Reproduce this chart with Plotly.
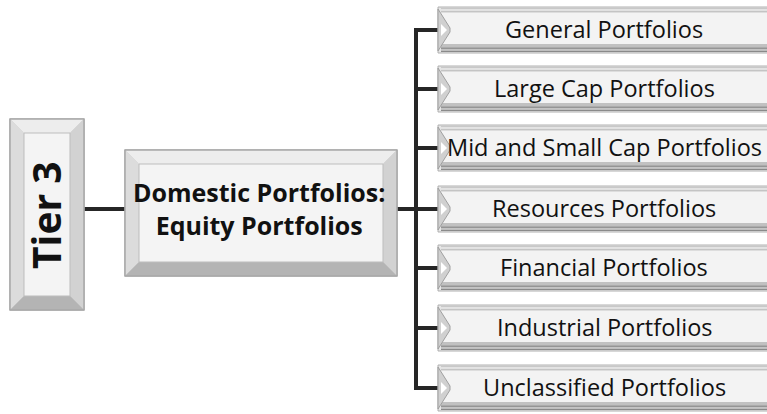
import plotly.graph_objects as go

tier_label = "Tier 3"
parent_label = "Domestic Portfolios:<br>Equity Portfolios"
child_labels = [
    "General Portfolios",
    "Large Cap Portfolios",
    "Mid and Small Cap Portfolios",
    "Resources Portfolios",
    "Financial Portfolios",
    "Industrial Portfolios",
    "Unclassified Portfolios",
]
child_centers = [30, 89, 148, 209, 268, 328, 388]

W, H = 767, 414
fig = go.Figure()
shapes = []
ann = []
FONT = "Open Sans"
LINE = "#262626"


def bevel_box(x0, y0, x1, y1, b):
    shapes.append(dict(type="rect", x0=x0, y0=y0, x1=x1, y1=y1,
                       fillcolor="#c8c8c8", line=dict(color="#9a9a9a", width=1)))
    shapes.append(dict(type="path",
                       path=f"M{x0},{y0} L{x1},{y0} L{x1-b},{y0+b} L{x0+b},{y0+b} Z",
                       fillcolor="#ededed", line=dict(width=0)))
    shapes.append(dict(type="path",
                       path=f"M{x0},{y0} L{x0+b},{y0+b} L{x0+b},{y1-b} L{x0},{y1} Z",
                       fillcolor="#dcdcdc", line=dict(width=0)))
    shapes.append(dict(type="path",
                       path=f"M{x1},{y0} L{x1-b},{y0+b} L{x1-b},{y1-b} L{x1},{y1} Z",
                       fillcolor="#d2d2d2", line=dict(width=0)))
    shapes.append(dict(type="path",
                       path=f"M{x0},{y1} L{x0+b},{y1-b} L{x1-b},{y1-b} L{x1},{y1} Z",
                       fillcolor="#b4b4b4", line=dict(width=0)))
    shapes.append(dict(type="rect", x0=x0+b, y0=y0+b, x1=x1-b, y1=y1-b,
                       fillcolor="#f4f4f4", line=dict(color="#bdbdbd", width=1)))
    shapes.append(dict(type="rect", x0=x0, y0=y0, x1=x1, y1=y1,
                       fillcolor="rgba(0,0,0,0)", line=dict(color="#a8a8a8", width=1.5)))


def bar_box(x0, yc, x1, h):
    y0, y1 = yc - h / 2, yc + h / 2
    shapes.append(dict(type="rect", x0=x0, y0=y0, x1=x1, y1=y1,
                       fillcolor="#e6e6e6", line=dict(color="#b0b0b0", width=1)))
    shapes.append(dict(type="rect", x0=x0 + 2, y0=y0 + 6, x1=x1, y1=y1 - 9,
                       fillcolor="#f3f3f3", line=dict(width=0)))
    for i, c in enumerate(["#9c9c9c", "#c0c0c0", "#7a7a7a", "#b8b8b8", "#8a8a8a"]):
        yy = y1 - 8 + i * 1.6
        shapes.append(dict(type="line", x0=x0 + 3, x1=x1, y0=yy, y1=yy,
                           line=dict(color=c, width=1.2)))
    for i, c in enumerate(["#c8c8c8", "#dedede", "#bcbcbc"]):
        yy = y0 + 1.5 + i * 1.6
        shapes.append(dict(type="line", x0=x0 + 3, x1=x1, y0=yy, y1=yy,
                           line=dict(color=c, width=1)))
    shapes.append(dict(type="path",
                       path=f"M{x0},{y0+2} L{x0+12},{yc-2} L{x0+12},{yc+2} L{x0},{y1-2} Z",
                       fillcolor="#d0d0d0", line=dict(color="#a0a0a0", width=1)))
    shapes.append(dict(type="path",
                       path=f"M{x0+3},{yc-6} L{x0+9},{yc} L{x0+3},{yc+6} Z",
                       fillcolor="#ffffff", line=dict(width=0)))


vx = 416
shapes.append(dict(type="line", x0=84, x1=126, y0=209, y1=209, line=dict(color=LINE, width=4)))
shapes.append(dict(type="line", x0=396, x1=vx, y0=209, y1=209, line=dict(color=LINE, width=4)))
shapes.append(dict(type="line", x0=vx, x1=vx, y0=child_centers[0] - 2, y1=child_centers[-1] + 2,
                   line=dict(color=LINE, width=4)))
for yc in child_centers:
    shapes.append(dict(type="line", x0=vx - 2, x1=442, y0=yc, y1=yc, line=dict(color=LINE, width=4)))

bevel_box(10, 119, 84, 310, 14)
bevel_box(125, 150, 397, 276, 14)

for lbl, yc in zip(child_labels, child_centers):
    bar_box(438, yc, 772, 46)
    ann.append(dict(x=604, y=yc - 1, text=lbl, showarrow=False, xanchor="center", yanchor="middle",
                    font=dict(family=FONT, size=23.5, color="#111111")))

ann.append(dict(x=45, y=215, text=f"<b>{tier_label}</b>", showarrow=False, textangle=-90,
                xanchor="center", yanchor="middle", font=dict(family=FONT, size=39, color="#111111")))
ann.append(dict(x=259, y=208, text=f"<b>{parent_label}</b>", showarrow=False,
                xanchor="center", yanchor="middle", font=dict(family=FONT, size=25, color="#111111")))

fig.update_layout(
    width=W, height=H, margin=dict(l=0, r=0, t=0, b=0),
    paper_bgcolor="white", plot_bgcolor="white",
    xaxis=dict(range=[0, W], visible=False, fixedrange=True),
    yaxis=dict(range=[H, 0], visible=False, fixedrange=True),
    shapes=shapes, annotations=ann, showlegend=False,
)
fig.write_html("out.html", config={"displayModeBar": False},
               post_script="document.body.style.margin='0';document.body.style.overflow='hidden';")
